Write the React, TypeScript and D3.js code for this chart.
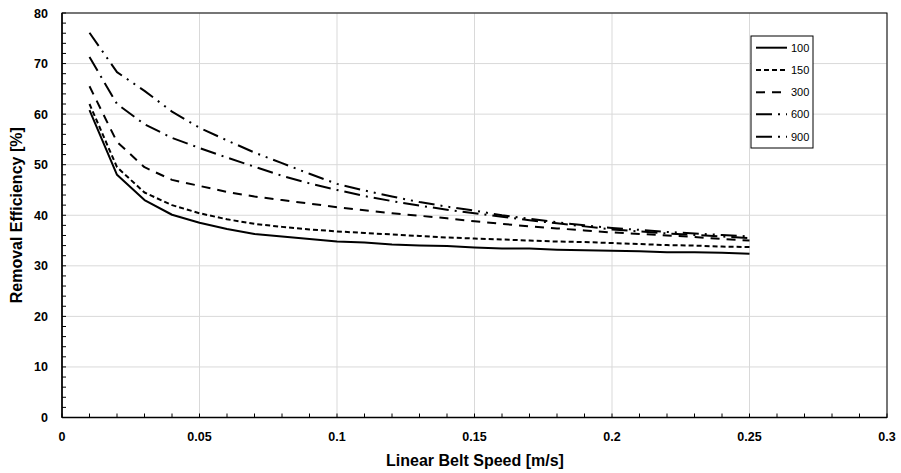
import React from "react";
import * as d3 from "d3";

const speeds = [0.01,0.02,0.03,0.04,0.05,0.06,0.07,0.08,0.09,0.1,0.11,0.12,0.13,0.14,0.15,0.16,0.17,0.18,0.19,0.2,0.21,0.22,0.23,0.24,0.25];
const s100 = [60.8,48.0,43.0,40.1,38.5,37.3,36.3,35.8,35.3,34.8,34.6,34.2,34.0,33.9,33.6,33.4,33.4,33.2,33.1,33.0,32.9,32.7,32.7,32.6,32.4];
const s150 = [62.0,49.5,44.5,42.0,40.4,39.2,38.3,37.7,37.2,36.8,36.5,36.2,35.9,35.6,35.4,35.2,35.0,34.8,34.7,34.5,34.3,34.1,34.0,33.8,33.7];
const s300 = [65.5,54.5,49.5,47.0,45.8,44.6,43.7,43.0,42.3,41.6,41.0,40.4,39.9,39.4,38.8,38.3,37.8,37.4,37.0,36.6,36.3,36.0,35.7,35.3,35.0];
const s600 = [71.3,62.0,58.0,55.3,53.3,51.4,49.6,47.8,46.3,45.0,43.8,42.8,41.9,41.1,40.4,39.7,39.0,38.4,37.8,37.2,36.8,36.4,36.1,35.8,35.5];
const s900 = [76.1,68.3,64.6,60.5,57.3,54.8,52.4,50.3,48.2,46.2,44.9,43.7,42.6,41.7,40.9,40.0,39.3,38.6,38.0,37.5,37.1,36.7,36.4,36.1,35.8];
const seriesNames = ["100","150","300","600","900"];
const seriesValues = [s100, s150, s300, s600, s900];
const dashes = ["", "5,3", "9,7", "16,6,2,6", "16,6,2,6,2,6"];
const xTicks = [0,0.05,0.1,0.15,0.2,0.25,0.3];
const xTickLabels = ["0","0.05","0.1","0.15","0.2","0.25","0.3"];
const yTicks = [0,10,20,30,40,50,60,70,80];

const W = 901, H = 473;
const L = 62, R = 887, T = 13, B = 417.5;
const font = "'Liberation Sans', Arial, sans-serif";

export default function App() {
  const x = d3.scaleLinear().domain([0, 0.3]).range([L, R]);
  const y = d3.scaleLinear().domain([0, 80]).range([B, T]);
  const line = d3.line<number>().x((_, i) => x(speeds[i])).y(d => y(d));
  const xMinor = d3.range(0, 31).map(i => i / 100);
  const yMinor = d3.range(0, 41).map(i => i * 2);
  const legX = 751, legY = 36, legW = 62, legH = 112;
  const rowY = [47.7, 70, 92.3, 114.3, 136.7];
  return (
    <svg width={W} height={H} style={{ position: "absolute", left: 0, top: 0, background: "#fff" }}>
      <rect x={0} y={0} width={W} height={H} fill="#fff" />
      {yTicks.map(t => (
        <line key={"gy" + t} x1={L} x2={R} y1={y(t)} y2={y(t)} stroke="#d9d9d9" strokeWidth={1} />
      ))}
      {xTicks.map(t => (
        <line key={"gx" + t} x1={x(t)} x2={x(t)} y1={T} y2={B} stroke="#d9d9d9" strokeWidth={1} />
      ))}
      <rect x={L} y={T} width={R - L} height={B - T} fill="none" stroke="#000" strokeWidth={1} />
      <line x1={L} x2={L} y1={T} y2={B} stroke="#000" strokeWidth={1.5} />
      <line x1={L} x2={R} y1={B} y2={B} stroke="#000" strokeWidth={1.5} />
      {xMinor.map((t, i) => (
        <line key={"xm" + i} x1={x(t)} x2={x(t)} y1={B} y2={B - 4} stroke="#000" strokeWidth={1} />
      ))}
      {yMinor.map((t, i) => (
        <line key={"ym" + i} x1={L} x2={L + 4} y1={y(t)} y2={y(t)} stroke="#000" strokeWidth={1} />
      ))}
      {seriesValues.map((vals, i) => (
        <path key={"s" + i} d={line(vals) || ""} fill="none" stroke="#000" strokeWidth={2}
          strokeDasharray={dashes[i] || undefined} strokeLinejoin="round" />
      ))}
      {yTicks.map(t => (
        <text key={"yl" + t} x={48} y={y(t) + 4.5} textAnchor="end" fontFamily={font} fontSize={12.5} fontWeight="bold" fill="#000">{t}</text>
      ))}
      {xTicks.map((t, i) => (
        <text key={"xl" + t} x={x(t)} y={441} textAnchor="middle" fontFamily={font} fontSize={12.5} fontWeight="bold" fill="#000">{xTickLabels[i]}</text>
      ))}
      <text x={475} y={466} textAnchor="middle" fontFamily={font} fontSize={16} fontWeight="bold" fill="#000">Linear Belt Speed [m/s]</text>
      <text transform={`translate(22,${(T + B) / 2}) rotate(-90)`} textAnchor="middle" fontFamily={font} fontSize={16} fontWeight="bold" fill="#000">Removal Efficiency [%]</text>
      <rect x={legX} y={legY} width={legW} height={legH} fill="#fff" stroke="#000" strokeWidth={1} />
      {seriesNames.map((n, i) => (
        <g key={"lg" + i}>
          <line x1={756} x2={787} y1={rowY[i]} y2={rowY[i]} stroke="#000" strokeWidth={2} strokeDasharray={dashes[i] || undefined} />
          <text x={791} y={rowY[i] + 4} fontFamily={font} fontSize={11} fill="#000">{n}</text>
        </g>
      ))}
    </svg>
  );
}
